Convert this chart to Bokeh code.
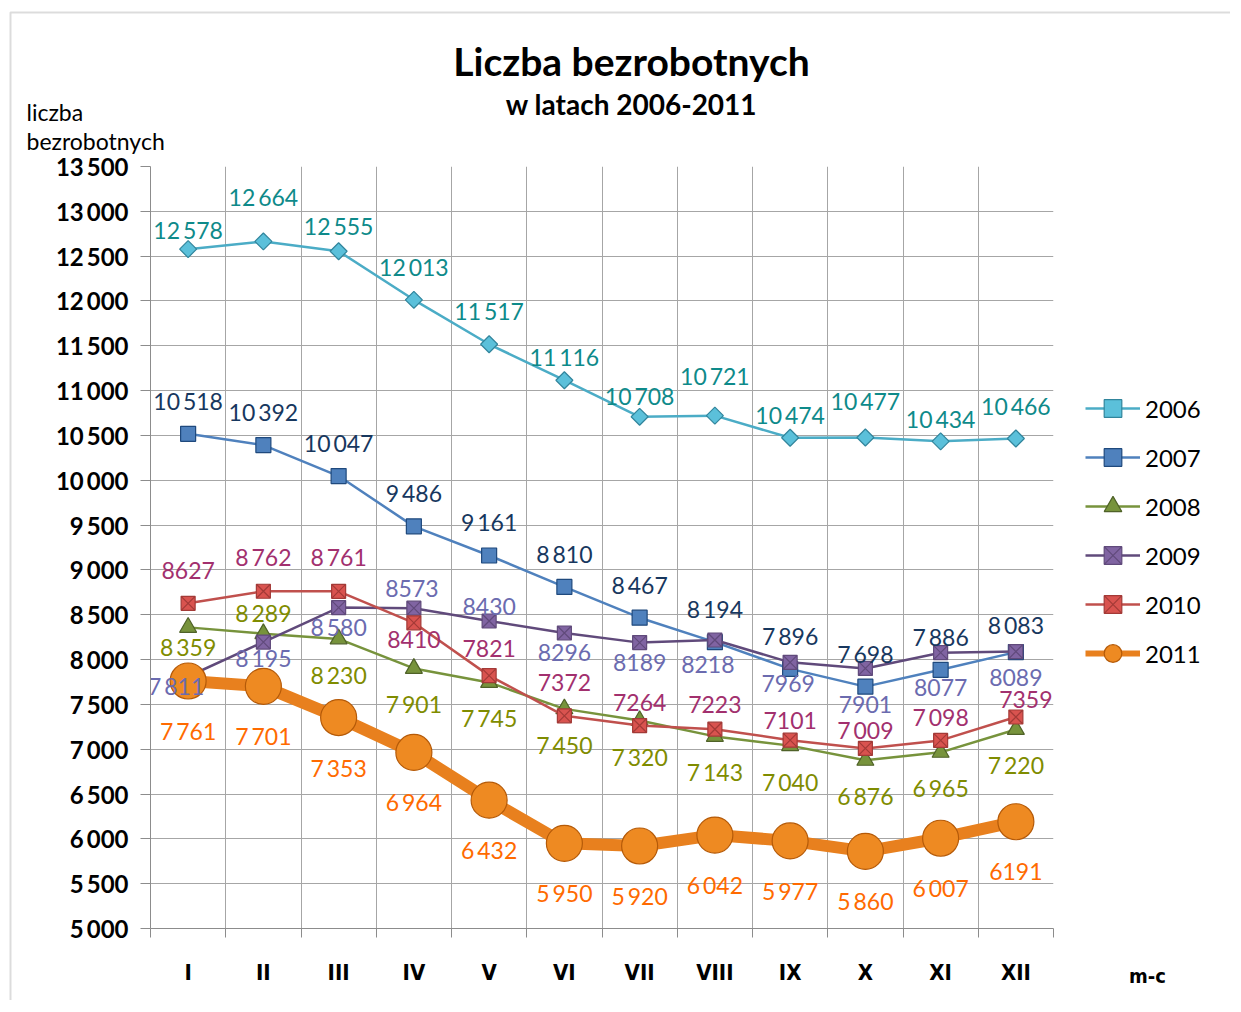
import math
from bokeh.plotting import figure
from bokeh.models import (ColumnDataSource, FixedTicker, Legend, LegendItem, BoxAnnotation, Column)
from bokeh.core.properties import value
from bokeh.embed import file_html
from bokeh.resources import INLINE

months = ["I", "II", "III", "IV", "V", "VI", "VII", "VIII", "IX", "X", "XI", "XII"]
years = ["2006", "2007", "2008", "2009", "2010", "2011"]

y2006 = [12578, 12664, 12555, 12013, 11517, 11116, 10708, 10721, 10474, 10477, 10434, 10466]
y2007 = [10518, 10392, 10047, 9486, 9161, 8810, 8467, 8194, 7896, 7698, 7886, 8083]
y2008 = [8359, 8289, 8230, 7901, 7745, 7450, 7320, 7143, 7040, 6876, 6965, 7220]
y2009 = [7811, 8195, 8580, 8573, 8430, 8296, 8189, 8218, 7969, 7901, 8077, 8089]
y2010 = [8627, 8762, 8761, 8410, 7821, 7372, 7264, 7223, 7101, 7009, 7098, 7359]
y2011 = [7761, 7701, 7353, 6964, 6432, 5950, 5920, 6042, 5977, 5860, 6007, 6191]

lab2006 = ["12 578", "12 664", "12 555", "12 013", "11 517", "11 116", "10 708", "10 721", "10 474", "10 477", "10 434", "10 466"]
lab2007 = ["10 518", "10 392", "10 047", "9 486", "9 161", "8 810", "8 467", "8 194", "7 896", "7 698", "7 886", "8 083"]
lab2008 = ["8 359", "8 289", "8 230", "7 901", "7 745", "7 450", "7 320", "7 143", "7 040", "6 876", "6 965", "7 220"]
lab2009 = ["7 811", "8 195", "8 580", "8573", "8430", "8296", "8189", "8218", "7969", "7901", "8077", "8089"]
lab2010 = ["8627", "8 762", "8 761", "8410", "7821", "7372", "7264", "7223", "7101", "7 009", "7 098", "7359"]
lab2011 = ["7 761", "7 701", "7 353", "6 964", "6 432", "5 950", "5 920", "6 042", "5 977", "5 860", "6 007", "6191"]

y_ticks = list(range(5000, 13501, 500))

title = "Liczba bezrobotnych"
subtitle = "w latach 2006-2011"
y_title = ["liczba", "bezrobotnych"]
x_title = "m-c"

# label offsets in pixels (styling only)
dy = {
    "2006": [-19, -44, -25, -33, -33, -23, -21, -40, -23, -37, -22, -32],
    "2007": [-33] * 11 + [-27],
    "2008": [20, -21] + [36] * 10,
    "2009": [9, 16, 19, -20, -15, 19, 20, 24, 21, 36, 35, 26],
    "2010": [-33, -34, -34, 17, -27, -33, -23, -25, -20, -18, -23, -18],
    "2011": [50] * 12,
}
dx = {
    "2006": [0] * 12, "2007": [0] * 12, "2008": [0] * 12,
    "2009": [-12, 0, 0, -2, 0, 0, 0, -7, -2, 0, 0, 0],
    "2010": [0] * 11 + [10],
    "2011": [0] * 12,
}

styles = {
    "2006": dict(line="#4BACC6", marker="square", angle=math.pi / 4, size=12, fill="#5BC0DA", edge="#31859C", lw=2.5, lab="#0E8A8A"),
    "2007": dict(line="#4F81BD", marker="square", angle=0, size=15, fill="#4F81BD", edge="#1F497D", lw=2.5, lab="#17375E"),
    "2008": dict(line="#77933C", marker="triangle", angle=0, size=17, fill="#77933C", edge="#4F6228", lw=2.5, lab="#7F8C00"),
    "2009": dict(line="#604A7B", marker="square_x", angle=0, size=14, fill="#8064A2", edge="#604A7B", lw=2.5, lab="#6B6BAF"),
    "2010": dict(line="#C0504D", marker="square_x", angle=0, size=14, fill="#D9534F", edge="#A33A37", lw=2.5, lab="#A2306E"),
    "2011": dict(line="#E8801E", marker="circle", angle=0, size=36, fill="#EE8A22", edge="#B55A08", lw=12, lab="#FF6A00"),
}

series = {"2006": y2006, "2007": y2007, "2008": y2008, "2009": y2009, "2010": y2010, "2011": y2011}
labels = {"2006": lab2006, "2007": lab2007, "2008": lab2008, "2009": lab2009, "2010": lab2010, "2011": lab2011}

W, H = 1230, 1000
FL, FT, FR, FB = 150, 166, 1053, 928  # frame edges in page pixels

# ---------- background figure: page texts, legend and border ----------
bg = figure(width=W, height=H, output_backend="svg", toolbar_location=None,
            x_range=(0, W), y_range=(H, 0), x_axis_type=None, y_axis_type=None,
            min_border=0, background_fill_color="white", border_fill_color="white",
            frame_align=False)
bg.grid.visible = False
bg.outline_line_color = None
bg.add_layout(BoxAnnotation(left=10, top=12, right=5000, bottom=5000, fill_alpha=0,
                            line_color="#8c8c8c", line_width=2))
bg.text(x=[631], y=[60], text=[title], text_align="center", text_baseline="middle",
        text_font=value("Lato"), text_font_size="39px", text_font_style="bold", text_color="black")
bg.text(x=[631], y=[103], text=[subtitle], text_align="center", text_baseline="middle",
        text_font=value("Lato"), text_font_size="28px", text_font_style="bold", text_color="black")
bg.text(x=[26, 26], y=[111, 140], text=y_title, text_align="left", text_baseline="middle",
        text_font=value("Lato"), text_font_size="23px", text_color="black")
bg.text(x=[1147], y=[975], text=[x_title], text_align="center", text_baseline="middle",
        text_font=value("DejaVu Sans Condensed, Liberation Sans"), text_font_size="20px",
        text_font_style="bold", text_color="black")

# legend samples (styles only; the single point is NaN so nothing is drawn on the page)
nan = float("nan")
items = []
for yr in years:
    st = styles[yr]
    sample = ColumnDataSource(dict(x=[nan], y=[nan]))
    lr = bg.line("x", "y", source=sample, line_color=st["line"], line_width=min(st["lw"], 6))
    sr = bg.scatter("x", "y", source=sample, marker=st["marker"], size=st["size"], angle=st["angle"],
                    fill_color=st["fill"], line_color=st["edge"], line_width=1.2)
    items.append(LegendItem(label=yr, renderers=[lr, sr]))

legend = Legend(items=items, location=(1085, 325), orientation="vertical")
legend.label_text_font = "Lato"
legend.label_text_font_size = "24px"
legend.label_text_color = "black"
legend.glyph_width = 55
legend.glyph_height = 44
legend.label_height = 44
legend.spacing = 5
legend.padding = 0
legend.margin = 0
legend.border_line_color = None
legend.background_fill_alpha = 0
bg.add_layout(legend, "center")

# ---------- main chart (overlaid on the background) ----------
p = figure(width=W, height=H, output_backend="svg", toolbar_location=None,
           x_range=(0, 12), y_range=(5000, 13500),
           min_border_left=FL, min_border_right=W - FR, min_border_top=FT, min_border_bottom=H - FB,
           background_fill_color="white", border_fill_alpha=0, margin=(-H, 0, 0, 0),
           frame_align=False)
p.outline_line_color = None

xc = [i + 0.5 for i in range(len(months))]
bounds = list(range(len(months) + 1))

p.xaxis.ticker = FixedTicker(ticks=xc, minor_ticks=bounds)
p.xaxis.major_label_overrides = {x: m for x, m in zip(xc, months)}
p.xaxis.major_tick_line_color = None
p.xaxis.major_tick_out = 0
p.xaxis.major_tick_in = 0
p.xaxis.minor_tick_out = 9
p.xaxis.minor_tick_in = 0
p.xaxis.minor_tick_line_color = "#8c8c8c"
p.xaxis.axis_line_color = "#8c8c8c"
p.xaxis.major_label_standoff = 22
p.xaxis.major_label_text_font = "DejaVu Sans Condensed, Liberation Sans"
p.xaxis.major_label_text_font_size = "22px"
p.xaxis.major_label_text_font_style = "bold"
p.xaxis.major_label_text_color = "black"

p.yaxis.ticker = FixedTicker(ticks=y_ticks)
p.yaxis.major_label_overrides = {t: f"{t:,}".replace(",", "\u2009") for t in y_ticks}
p.yaxis.minor_tick_line_color = None
p.yaxis.major_tick_out = 10
p.yaxis.major_tick_in = 0
p.yaxis.major_tick_line_color = "#8c8c8c"
p.yaxis.axis_line_color = "#8c8c8c"
p.yaxis.major_label_standoff = 12
p.yaxis.major_label_text_font = "Lato"
p.yaxis.major_label_text_font_size = "24px"
p.yaxis.major_label_text_font_style = "bold"
p.yaxis.major_label_text_color = "black"

p.xgrid.ticker = FixedTicker(ticks=bounds)
p.xgrid.grid_line_color = "#a6a6a6"
p.ygrid.grid_line_color = "#a6a6a6"

for yr in years:
    st = styles[yr]
    src = ColumnDataSource(dict(x=xc, y=series[yr]))
    p.line("x", "y", source=src, line_color=st["line"], line_width=st["lw"])
    p.scatter("x", "y", source=src, marker=st["marker"], size=st["size"], angle=st["angle"],
              fill_color=st["fill"], line_color=st["edge"], line_width=1.2)

for yr in years:
    st = styles[yr]
    src = ColumnDataSource(dict(x=xc, y=series[yr],
                                t=[s.replace(" ", "\u2009") for s in labels[yr]],
                                dx=dx[yr], dy=dy[yr]))
    p.text("x", "y", text="t", source=src, x_offset="dx", y_offset="dy",
           text_align="center", text_baseline="middle",
           text_font=value("Lato"), text_font_size="23px", text_color=st["lab"])

layout = Column(bg, p, spacing=0)
open("out.html", "w").write(file_html(layout, INLINE))
